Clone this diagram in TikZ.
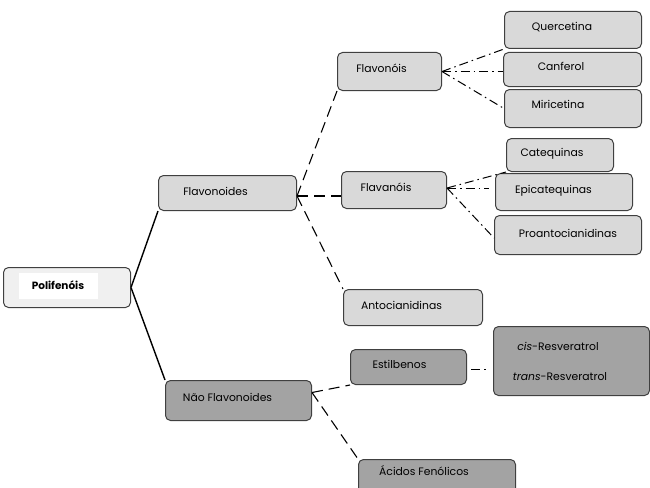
\documentclass[tikz,border=0pt]{standalone}
\usepackage{fontspec}
\setmainfont{Poppins}
\newcommand{\gapR}[1]{\hbox to #1{}}
\begin{document}
\begin{tikzpicture}[x=1pt,y=-1pt,
  box/.style={draw=black!75, line width=1pt, rounded corners=5pt, anchor=north west, inner sep=0pt, font=\fontsize{10.8}{13}\selectfont},
  lite/.style={box, fill=black!15},
  dark/.style={box, fill=black!36},
  solidl/.style={line width=1.4pt, black},
  dashl/.style={line width=1.1pt, black, dash pattern=on 11pt off 6pt},
  ddot/.style={line width=1pt, black, dash pattern=on 9pt off 4pt on 1.5pt off 4pt}]
\useasboundingbox (0,0) rectangle (650,487);
% root
\node[box, fill=black!6, minimum width=127pt, minimum height=40pt, text depth=13pt] (poli) at (3,267) {{\fboxsep=0pt\colorbox{white}{\makebox[79pt]{\rule[-9pt]{0pt}{26pt}\fontsize{10.5}{12}\selectfont\textbf{Polifenóis}}}}\gapR{18pt}};
% level 1
\node[lite, minimum width=138pt, minimum height=35pt, text depth=3pt] (flav) at (158,175) {Flavonoides\gapR{24pt}};
\node[dark, minimum width=146pt, minimum height=40pt, text depth=6pt] (nflav) at (165,380) {Não Flavonoides\gapR{22pt}};
% level 2
\node[lite, minimum width=104pt, minimum height=38pt, text depth=6pt] (flavonois) at (337,52) {Flavonóis\gapR{16pt}};
\node[lite, minimum width=105pt, minimum height=37pt, text depth=6pt] (flavanois) at (341,171) {Flavanóis\gapR{16pt}};
\node[lite, minimum width=139pt, minimum height=36pt, text depth=4pt] (antoc) at (343,289) {Antocianidinas\gapR{23pt}};
\node[dark, minimum width=116pt, minimum height=35pt, text depth=6pt] (estil) at (350,349) {Estilbenos\gapR{18pt}};
\node[dark, minimum width=157pt, minimum height=40pt, text depth=18pt] (acidos) at (358,459) {Ácidos Fenólicos\gapR{26pt}};
% level 3
\node[lite, minimum width=137pt, minimum height=37pt, text depth=8pt] (querc) at (504,11) {Quercetina\gapR{22pt}};
\node[lite, minimum width=138pt, minimum height=34pt, text depth=6pt] (canf) at (503,52) {Canferol\gapR{23pt}};
\node[lite, minimum width=137pt, minimum height=38pt, text depth=8pt] (miric) at (504,89) {Miricetina\gapR{30pt}};
\node[lite, minimum width=107pt, minimum height=33pt, text depth=6pt] (cateq) at (506,138) {Catequinas\gapR{16pt}};
\node[lite, minimum width=137pt, minimum height=37pt, text depth=5pt] (epic) at (495,173) {Epicatequinas\gapR{21pt}};
\node[lite, minimum width=147pt, minimum height=39pt, text depth=4pt] (proa) at (494,215) {Proantocianidinas};
\node[dark, minimum width=156pt, minimum height=69pt, align=center] (resv) at (493,326) {\textit{cis}-Resveratrol\gapR{27pt}\\[17pt]\textit{trans}-Resveratrol\gapR{23pt}};
% connectors
\coordinate (pr) at (poli.east);
\draw[solidl] (pr) -- (flav.south west);
\draw[solidl] (pr) -- (nflav.north west);
\coordinate (fr) at ([yshift=-3pt]flav.east);
\draw[dashl] (fr) -- (flavonois.south west);
\draw[dashl] (fr) -- (fr -| flavanois.west);
\draw[dashl] (fr) -- (antoc.north west);
\coordinate (nr) at ([yshift=8pt]nflav.east);
\draw[dashl] (nr) -- (estil.south west);
\draw[dashl] (nr) -- (acidos.north west);
\coordinate (fo) at (flavonois.east);
\draw[ddot] (fo) -- (querc.south west);
\draw[ddot] (fo) -- (fo -| canf.west);
\draw[ddot] (fo) -- (miric.west);
\coordinate (fa) at ([yshift=2pt]flavanois.east);
\coordinate (ep) at ([xshift=-6pt]fa -| epic.west);
\draw[ddot] (fa) -- (cateq.south west);
\draw[ddot] (fa) -- (ep);
\draw[ddot] (fa) -- ([yshift=-3pt]proa.west);
\coordinate (es1) at ([xshift=4pt,yshift=-2pt]estil.east);
\coordinate (es2) at ([xshift=-6pt]es1 -| resv.west);
\draw[ddot] (es1) -- (es2);
\end{tikzpicture}
\end{document}
